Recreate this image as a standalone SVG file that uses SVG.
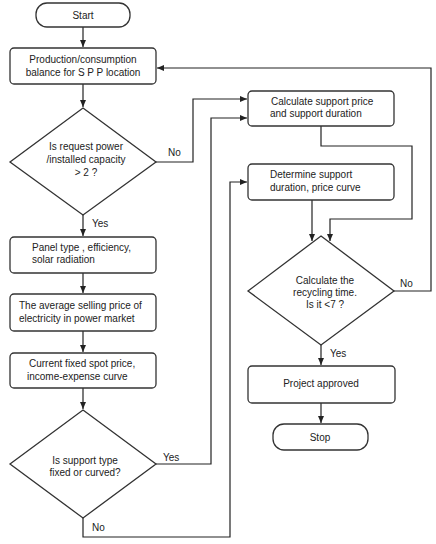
<svg xmlns="http://www.w3.org/2000/svg" width="436" height="544" viewBox="0 0 436 544">
<defs>
<marker id="ah" markerWidth="8" markerHeight="8" refX="7" refY="4" orient="auto" markerUnits="userSpaceOnUse">
<path d="M0,1 L7,4 L0,7 Z" fill="#222"/>
</marker>
<style>
.s{fill:#fff;stroke:#333;stroke-width:1.3}
.c{fill:none;stroke:#222;stroke-width:1.2}
text{font-family:"Liberation Sans",Arial,sans-serif;font-size:10px;fill:#222}
.m{text-anchor:middle}
</style>
</defs>
<rect width="436" height="544" fill="#fff"/>
<g id="connectors">
<path class="c" d="M83,27 V47" marker-end="url(#ah)"/>
<path class="c" d="M83,84 V107" marker-end="url(#ah)"/>
<path class="c" d="M83,215 V236" marker-end="url(#ah)"/>
<path class="c" d="M83,273 V293" marker-end="url(#ah)"/>
<path class="c" d="M83,331 V352" marker-end="url(#ah)"/>
<path class="c" d="M83,388 V409" marker-end="url(#ah)"/>
<path class="c" d="M156,162 H193 V99 H247" marker-end="url(#ah)"/>
<path class="c" d="M156,464 H211 V118 H247" marker-end="url(#ah)"/>
<path class="c" d="M83,518 V537 H230 V182 H247" marker-end="url(#ah)"/>
<path class="c" d="M321,126 V146 H412 V219 H330 V241" marker-end="url(#ah)"/>
<path class="c" d="M312,200 V241" marker-end="url(#ah)"/>
<path class="c" d="M394,291 H431 V68 H157" marker-end="url(#ah)"/>
<path class="c" d="M321,345 V365" marker-end="url(#ah)"/>
<path class="c" d="M321,403 V423" marker-end="url(#ah)"/>
<text x="168" y="156">No</text>
<text x="92" y="227">Yes</text>
<text x="163" y="461">Yes</text>
<text x="92" y="531">No</text>
<text x="400" y="287">No</text>
<text x="330" y="357">Yes</text>
</g>
<g id="start">
<rect class="s" x="36" y="3" width="94" height="24" rx="11"/>
<text class="m" x="83" y="19">Start</text>
</g>
<g id="balance">
<rect class="s" x="10" y="48" width="146" height="36" rx="4"/>
<text class="m" x="83" y="63">Production/consumption</text>
<text class="m" x="83" y="76">balance for S P P location</text>
</g>
<g id="dec1">
<polygon class="s" points="83,108 156,162 83,215 10,162"/>
<text class="m" x="86" y="150">Is request power</text>
<text class="m" x="86" y="163">/installed capacity</text>
<text class="m" x="86" y="176">&gt; 2 ?</text>
</g>
<g id="panel">
<rect class="s" x="10" y="237" width="146" height="36" rx="4"/>
<text x="32" y="251">Panel type , efficiency,</text>
<text x="32" y="263">solar radiation</text>
</g>
<g id="avg">
<rect class="s" x="10" y="294" width="146" height="37" rx="4"/>
<text x="19" y="309">The average selling price of</text>
<text x="19" y="322">electricity in power market</text>
</g>
<g id="current">
<rect class="s" x="10" y="353" width="146" height="35" rx="4"/>
<text x="29" y="367">Current fixed spot price,</text>
<text x="27" y="380">income-expense curve</text>
</g>
<g id="dec3">
<polygon class="s" points="83,410 156,464 83,518 10,464"/>
<text class="m" x="85" y="464">Is support type</text>
<text class="m" x="85" y="476">fixed or curved?</text>
</g>
<g id="calc">
<rect class="s" x="248" y="91" width="146" height="35" rx="4"/>
<text x="271" y="105">Calculate support price</text>
<text x="270" y="117">and support duration</text>
</g>
<g id="determine">
<rect class="s" x="248" y="164" width="146" height="36" rx="4"/>
<text x="270" y="178">Determine support</text>
<text x="270" y="191">duration, price curve</text>
</g>
<g id="dec4">
<polygon class="s" points="321,236 394,291 321,345 248,291"/>
<text class="m" x="325" y="284">Calculate the</text>
<text class="m" x="325" y="296">recycling time.</text>
<text class="m" x="325" y="308">Is it  &lt;7 ?</text>
</g>
<g id="approved">
<rect class="s" x="248" y="366" width="147" height="37" rx="4"/>
<text class="m" x="321" y="387">Project approved</text>
</g>
<g id="stop">
<rect class="s" x="273" y="424" width="95" height="26" rx="11"/>
<text class="m" x="320" y="441">Stop</text>
</g>
</svg>
